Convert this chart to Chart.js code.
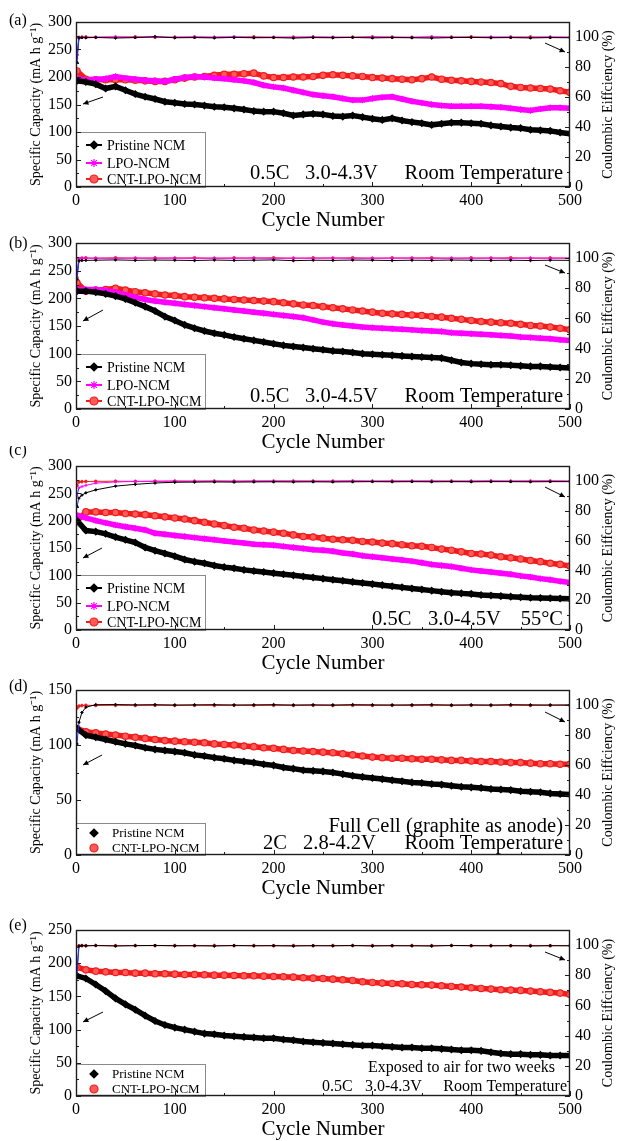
<!DOCTYPE html>
<html>
<head>
<meta charset="utf-8">
<script src="https://cdn.jsdelivr.net/npm/chart.js@4.4.1/dist/chart.umd.min.js"></script>
<style>
  html, body { margin: 0; padding: 0; background: #fff; overflow: hidden; }
  #page { position: relative; width: 617px; height: 1141px; }
  #page canvas { position: absolute; left: 0; }
</style>
</head>
<body>
<div id="page"></div>
<script>
const SERIF = "'Liberation Serif', 'Times New Roman', serif";

// capacity is sampled every 10 cycles, coulombic efficiency more sparsely
const CYCLES = [1, 10, 20, 30, 40, 50, 60, 70, 80, 90,
  100, 110, 120, 130, 140, 150, 160, 170, 180, 190,
  200, 210, 220, 230, 240, 250, 260, 270, 280, 290,
  300, 310, 320, 330, 340, 350, 360, 370, 380, 390,
  400, 410, 420, 430, 440, 450, 460, 470, 480, 490, 500];
const CE_CYCLES = [1, 3, 6, 10, 20, 40, 60, 80, 100,
  120, 140, 160, 180, 200, 220, 240, 260, 280, 300,
  320, 340, 360, 380, 400, 420, 440, 460, 480, 500];

// (a) 0.5C, 3.0-4.3V, room temperature
const A_PRISTINE = [193, 191, 187, 179, 183, 176, 169, 164, 160, 155,
  153, 151, 150, 148, 146, 145, 143, 141, 138, 137,
  137, 134, 130, 132, 133, 132, 129, 128, 130, 127,
  124, 122, 125, 121, 118, 116, 113, 115, 117, 117,
  116, 115, 112, 110, 108, 107, 104, 103, 102, 99, 97];
const A_LPO = [198, 194, 196, 197, 201, 198, 196, 194, 193, 192,
  196, 199, 201, 200, 198, 197, 195, 193, 190, 185,
  182, 180, 176, 172, 168, 166, 164, 161, 158, 158,
  161, 163, 164, 160, 156, 153, 150, 148, 147, 147,
  147, 147, 146, 145, 143, 141, 139, 142, 144, 144, 143];
const A_CNT = [211, 196, 195, 195, 195, 195, 194, 193, 192, 192,
  195, 198, 200, 201, 203, 205, 205, 206, 207, 202,
  199, 199, 200, 200, 201, 203, 204, 203, 202, 201,
  199, 198, 197, 196, 195, 197, 200, 196, 194, 193,
  192, 191, 190, 188, 183, 181, 180, 179, 178, 175, 172];
const A_CE_PRISTINE = [83, 99.4, 99.6, 99.5, 99.7, 99.3, 99.6, 100.2, 99.5,
  99.6, 99.4, 99.7, 99.5, 99.6, 99.3, 99.6, 99.5, 99.7, 99.4,
  99.6, 99.5, 99.3, 99.6, 99.7, 99.5, 99.6, 99.4, 99.6, 99.5];
const A_CE_LPO = [86, 99.8, 99.9, 99.7, 99.9, 100.1, 99.8, 99.9, 99.8,
  100.0, 99.9, 100.2, 99.7, 99.9, 99.8, 100.0, 99.9, 99.8, 100.0,
  99.9, 99.8, 100.1, 99.9, 99.8, 100.0, 99.9, 99.8, 100.0, 99.9];
const A_CE_CNT = [88, 99.7, 99.9, 100.0, 99.8, 99.9, 100.1, 99.8, 99.9,
  100.0, 99.8, 99.9, 100.1, 99.8, 99.9, 100.0, 99.8, 99.9, 100.1,
  99.9, 99.8, 100.0, 99.9, 100.1, 99.8, 99.9, 100.0, 99.9, 99.8];

// (b) 0.5C, 3.0-4.5V, room temperature
const B_PRISTINE = [213, 213, 211, 208, 204, 199, 192, 185, 177, 167,
  160, 152, 146, 141, 137, 134, 130, 127, 124, 121,
  118, 115, 113, 111, 109, 107, 105, 104, 102, 100,
  99, 98, 97, 96, 95, 94, 93, 92, 88, 84,
  82, 81, 80, 80, 79, 78, 77, 77, 76, 75, 74];
const B_LPO = [216, 216, 216, 214, 211, 206, 202, 198, 195, 193,
  191, 189, 187, 185, 183, 181, 179, 177, 175, 173,
  171, 169, 167, 165, 161, 157, 154, 152, 150, 148,
  147, 146, 145, 144, 143, 142, 141, 140, 138, 137,
  136, 135, 134, 133, 132, 130, 129, 128, 127, 125, 124];
const B_CNT = [228, 213, 215, 216, 218, 215, 212, 210, 208, 206,
  205, 203, 202, 201, 200, 199, 198, 197, 196, 195,
  194, 192, 190, 188, 187, 185, 183, 181, 179, 177,
  175, 173, 172, 171, 170, 169, 167, 166, 164, 162,
  160, 158, 157, 156, 155, 153, 151, 150, 148, 146, 143];
const B_CE_PRISTINE = [86, 98.1, 98.4, 98.5, 98.6, 98.8, 98.5, 98.7, 98.6,
  98.4, 98.7, 98.5, 98.6, 98.8, 98.3, 98.6, 98.5, 98.7, 98.6,
  98.4, 98.6, 98.5, 98.7, 98.6, 98.5, 98.6, 98.4, 98.6, 98.5];
const B_CE_LPO = [90, 99.8, 100.1, 99.9, 100.0, 99.8, 100.1, 99.9, 100.0,
  99.8, 100.0, 99.9, 100.1, 99.8, 100.0, 99.9, 100.1, 99.8, 100.0,
  99.9, 100.1, 99.8, 100.0, 99.9, 100.0, 99.8, 100.1, 99.9, 100.0];
const B_CE_CNT = [87, 99.6, 99.9, 100.1, 99.9, 100.2, 99.9, 100.1, 100.0,
  100.2, 99.9, 100.1, 100.0, 100.2, 99.9, 100.1, 100.0, 100.2, 99.9,
  100.1, 100.0, 100.2, 99.9, 100.1, 100.0, 100.2, 99.9, 100.1, 100.0];

// (c) 0.5C, 3.0-4.5V, 55 °C
const C_PRISTINE = [200, 182, 180, 176, 170, 165, 160, 151, 145, 140,
  135, 129, 125, 122, 118, 115, 113, 110, 108, 106,
  104, 102, 100, 98, 96, 94, 92, 90, 88, 86,
  84, 82, 80, 78, 76, 74, 72, 70, 68, 67,
  66, 64, 63, 62, 61, 60, 59, 58.5, 58, 57.5, 57];
const C_LPO = [210, 205, 200, 196, 192, 189, 186, 183, 177, 175,
  173, 171, 169, 167, 165, 163, 161, 159, 157, 156,
  155, 153, 151, 149, 147, 146, 144, 141, 139, 136,
  134, 132, 130, 128, 126, 123, 120, 118, 116, 113,
  110, 108, 106, 104, 102, 99, 97, 94, 92, 89, 87];
const C_CNT = [199, 216, 216, 215, 215, 213, 212, 211, 209, 207,
  205, 203, 200, 197, 194, 191, 188, 186, 183, 181,
  179, 177, 174, 171, 170, 168, 166, 165, 164, 162,
  161, 159, 158, 156, 154, 153, 151, 148, 146, 143,
  140, 139, 137, 134, 132, 130, 127, 125, 122, 120, 117];
const C_CE_PRISTINE = [83, 88.5, 90.5, 92, 94, 96.5, 97.7, 98.6, 99.1,
  99.2, 99.3, 99.2, 99.3, 99.4, 99.3, 99.4, 99.3, 99.4, 99.5,
  99.4, 99.5, 99.4, 99.5, 99.4, 99.5, 99.5, 99.4, 99.5, 99.5];
const C_CE_LPO = [90, 95.4, 96.2, 97, 98.5, 99.3, 99.6, 99.7, 99.8,
  99.8, 99.9, 99.8, 99.9, 100.0, 99.9, 99.8, 99.9, 100.0, 99.9,
  99.9, 100.0, 99.9, 99.8, 99.9, 100.0, 99.9, 99.9, 100.0, 99.9];
const C_CE_CNT = [97, 99.3, 99.5, 99.6, 99.7, 99.8, 99.7, 99.8, 99.9,
  99.8, 99.9, 99.8, 99.9, 99.8, 99.9, 99.9, 99.8, 99.9, 99.8,
  99.9, 99.8, 99.9, 99.9, 99.8, 99.9, 99.8, 99.9, 99.9, 99.8];

// (d) full cell, 2C, 2.8-4.2V
const D_PRISTINE = [115, 109, 107, 105, 103, 101, 99.5, 97.5, 96, 95,
  94, 93, 91, 90, 88.5, 87.5, 86, 85, 84, 82.5,
  81.5, 79.5, 78.5, 77, 76.5, 76, 75, 73.5, 72, 71,
  70, 69, 68, 67, 66, 65.5, 64.5, 64, 63, 62,
  61.5, 61, 60, 59.5, 59, 58, 57.5, 57, 56, 55.5, 55];
const D_CNT = [115, 112, 111, 110, 109, 108, 107, 106, 105, 104,
  103.5, 103, 102.5, 102, 101, 100.5, 100, 99, 98.5, 97.5,
  97, 96, 95, 94.5, 94, 93.5, 93, 92, 91, 90,
  89, 88.5, 88, 88, 87.5, 87, 87, 86.5, 86, 86,
  85.5, 85, 85, 84.5, 84, 84, 83.5, 83, 83, 82.5, 82.5];
const D_CE_PRISTINE = [74, 88.5, 95, 98.5, 100.2, 100.3, 100.1, 100.2, 100.0,
  100.1, 100.2, 100.0, 100.1, 100.2, 100.0, 100.1, 100.0, 100.2, 100.1,
  100.0, 100.1, 100.2, 100.0, 100.1, 100.0, 100.2, 100.1, 100.0, 100.1];
const D_CE_CNT = [98, 99.3, 99.6, 99.8, 99.7, 99.8, 99.7, 99.8, 99.7,
  99.8, 99.7, 99.8, 99.7, 99.8, 99.7, 99.8, 99.7, 99.8, 99.7,
  99.8, 99.7, 99.8, 99.7, 99.8, 99.7, 99.8, 99.7, 99.8, 99.7];

// (e) electrodes exposed to air for two weeks
const E_PRISTINE = [181, 177, 168, 158, 147, 138, 130, 121, 113, 107,
  103, 100, 97, 94, 93, 91, 90, 89, 88, 87,
  87, 85, 84, 82, 81, 80, 79, 78, 77, 76,
  76, 75, 74, 73, 73, 72, 72, 71, 70, 69,
  69, 68, 66, 64, 63, 63, 62, 62, 61, 61, 61];
const E_CNT = [194, 190, 188, 187, 186, 186, 185, 185, 184, 184,
  183.5, 183, 183, 182.5, 182, 182, 181.5, 181, 181, 180.5,
  180, 179.5, 179, 178, 177.5, 177, 176, 175, 174, 172,
  171, 170, 169.5, 169, 168, 167.5, 167, 166, 165, 164,
  163, 162, 161, 160, 159.5, 159, 158, 157, 156, 155, 153];
const E_CE_PRISTINE = [80, 99.3, 99.6, 99.5, 99.7, 99.4, 99.6, 99.8, 99.5,
  99.6, 99.4, 99.7, 99.5, 99.6, 99.4, 99.6, 99.5, 99.7, 99.4,
  99.6, 99.5, 99.4, 99.7, 99.6, 99.5, 99.6, 99.4, 99.6, 99.5];
const E_CE_CNT = [85, 99.5, 99.7, 99.6, 99.7, 99.6, 99.7, 99.6, 99.7,
  99.6, 99.7, 99.6, 99.7, 99.6, 99.7, 99.6, 99.7, 99.6, 99.7,
  99.6, 99.7, 99.6, 99.7, 99.6, 99.7, 99.6, 99.7, 99.6, 99.7];

const X_TICKS = [0, 100, 200, 300, 400, 500];
const CE_TICKS = [0, 20, 40, 60, 80, 100];

const STYLE = {
  'Pristine NCM': { color: '#000000', fill: '#000000', point: 'rectRot' },
  'LPO-NCM': { color: '#ff00ff', fill: '#ff00ff', point: 'star' },
  'CNT-LPO-NCM': { color: '#f01c1c', fill: '#ff5a5a', point: 'circle' },
};
const THREE = ['Pristine NCM', 'LPO-NCM', 'CNT-LPO-NCM'];
const TWO = ['Pristine NCM', 'CNT-LPO-NCM'];

const BIG_LEGEND = { top: -55, rows: [-42, -24, -8], line: true, textX: 107, size: 14 };
const SMALL_LEGEND = { top: -32, rows: [-22, -7], line: false, textX: 112, size: 13 };

const PANELS = [
  { tag: '(a)', tagDy: -1, top: 22, height: 165, capMax: 300, names: THREE,
    cap: [A_PRISTINE, A_LPO, A_CNT], ce: [A_CE_PRISTINE, A_CE_LPO, A_CE_CNT],
    legend: BIG_LEGEND,
    notes: [{ dy: -13, size: 20.5, parts: [['0.5C', 250, 'left'], ['3.0-4.3V', 305, 'left'], ['Room Temperature', 563, 'right']] }],
    arrows: [[103, 75, 83, 82], [545, 21, 565, 30]] },
  { tag: '(b)', tagDy: 1, top: 243, height: 166, capMax: 300, names: THREE,
    cap: [B_PRISTINE, B_LPO, B_CNT], ce: [B_CE_PRISTINE, B_CE_LPO, B_CE_CNT],
    legend: BIG_LEGEND,
    notes: [{ dy: -12, size: 20.5, parts: [['0.5C', 250, 'left'], ['3.0-4.5V', 305, 'left'], ['Room Temperature', 563, 'right']] }],
    arrows: [[103, 67, 83, 78], [545, 22, 565, 30]] },
  { tag: '(c)', tagDy: -15, top: 466, height: 164, capMax: 300, names: THREE,
    cap: [C_PRISTINE, C_LPO, C_CNT], ce: [C_CE_PRISTINE, C_CE_LPO, C_CE_CNT],
    legend: BIG_LEGEND,
    notes: [{ dy: -10, size: 20.5, parts: [['0.5C', 372, 'left'], ['3.0-4.5V', 428, 'left'], ['55°C', 563, 'right']] }],
    arrows: [[102, 82, 83, 92], [545, 21, 565, 31]] },
  { tag: '(d)', tagDy: -3, top: 690, height: 165, capMax: 150, names: TWO,
    cap: [D_PRISTINE, D_CNT], ce: [D_CE_PRISTINE, D_CE_CNT],
    legend: SMALL_LEGEND,
    notes: [{ dy: -28, size: 20.5, parts: [['Full Cell (graphite as anode)', 563, 'right']] },
            { dy: -11, size: 20.5, parts: [['2C', 263, 'left'], ['2.8-4.2V', 303, 'left'], ['Room Temperature', 563, 'right']] }],
    arrows: [[102, 65, 83, 75], [545, 22, 565, 32]] },
  { tag: '(e)', tagDy: -4, top: 930, height: 166, capMax: 250, names: TWO,
    cap: [E_PRISTINE, E_CNT], ce: [E_CE_PRISTINE, E_CE_CNT],
    legend: SMALL_LEGEND,
    notes: [{ dy: -28, size: 16, parts: [['Exposed to air for two weeks', 555, 'right']] },
            { dy: -9, size: 16, parts: [['0.5C', 322, 'left'], ['3.0-4.3V', 365, 'left'], ['Room Temperature', 567, 'right']] }],
    arrows: [[103, 82, 83, 92], [545, 22, 565, 30]] },
];

const PAD_TOP = 20;
const X_AXIS_H = 50;

function toPoints(xs, ys) {
  return xs.map((x, i) => ({ x, y: ys[i] }));
}

function arrow(ctx, x1, y1, x2, y2) {
  ctx.beginPath();
  ctx.moveTo(x1, y1);
  ctx.lineTo(x2, y2);
  ctx.stroke();
  const ang = Math.atan2(y2 - y1, x2 - x1);
  const h = 6;
  ctx.beginPath();
  ctx.moveTo(x2, y2);
  ctx.lineTo(x2 - h * Math.cos(ang - 0.45), y2 - h * Math.sin(ang - 0.45));
  ctx.lineTo(x2 - h * Math.cos(ang + 0.45), y2 - h * Math.sin(ang + 0.45));
  ctx.closePath();
  ctx.fill();
}

// inward major/minor tick marks along one side of the frame
function innerTicks(ctx, scale, minor, side, a) {
  const major = scale.ticks.map((t) => t.value);
  for (let v = scale.min; v <= scale.max + 1e-6; v += minor) {
    const len = major.some((m) => Math.abs(m - v) < 1e-6) ? 5 : 3;
    const p = Math.round(scale.getPixelForValue(v)) + 0.5;
    ctx.beginPath();
    if (side === 'bottom') { ctx.moveTo(p, a.bottom); ctx.lineTo(p, a.bottom - len); }
    if (side === 'left') { ctx.moveTo(a.left, p); ctx.lineTo(a.left + len, p); }
    if (side === 'right') { ctx.moveTo(a.right, p); ctx.lineTo(a.right - len, p); }
    ctx.stroke();
  }
}

const panelDecor = {
  id: 'panelDecor',
  afterDraw(chart, args, opts) {
    const { ctx, chartArea: a, scales } = chart;
    const lg = opts.legend;
    ctx.save();

    // legend box in the lower-left corner
    ctx.fillStyle = '#fff';
    ctx.fillRect(a.left, a.bottom + lg.top, 205 - a.left, -lg.top);
    ctx.strokeStyle = '#8a8a8a';
    ctx.lineWidth = 1;
    ctx.strokeRect(a.left + 0.5, a.bottom + lg.top + 0.5, 205 - a.left, -lg.top);
    opts.names.forEach((name, i) => {
      const st = STYLE[name];
      const y = a.bottom + lg.rows[i];
      if (lg.line) {
        ctx.strokeStyle = st.color;
        ctx.lineWidth = 2;
        ctx.beginPath();
        ctx.moveTo(86, y);
        ctx.lineTo(102, y);
        ctx.stroke();
      }
      ctx.fillStyle = st.fill;
      ctx.strokeStyle = st.color;
      ctx.lineWidth = 1.2;
      Chart.helpers.drawPoint(ctx, { pointStyle: st.point, radius: 4, rotation: 0, borderWidth: 1.2 }, 94, y);
      ctx.fillStyle = '#000';
      ctx.font = lg.size + 'px ' + SERIF;
      ctx.textAlign = 'left';
      ctx.textBaseline = 'middle';
      ctx.fillText(name, lg.textX, y + 1);
    });

    // frame and inward ticks
    ctx.strokeStyle = '#1e1e1e';
    ctx.lineWidth = 1.4;
    ctx.strokeRect(a.left + 0.5, a.top + 0.5, a.width - 1, a.height - 1);
    ctx.lineWidth = 1;
    innerTicks(ctx, scales.x, 50, 'bottom', a);
    innerTicks(ctx, scales.y, 25, 'left', a);
    innerTicks(ctx, scales.y1, 10, 'right', a);

    // test conditions
    ctx.fillStyle = '#000';
    ctx.textBaseline = 'middle';
    opts.notes.forEach((line) => {
      ctx.font = line.size + 'px ' + SERIF;
      line.parts.forEach(([text, x, align]) => {
        ctx.textAlign = align;
        ctx.fillText(text, x, a.bottom + line.dy);
      });
    });

    // arrows pointing at the matching axis
    ctx.strokeStyle = '#000';
    ctx.fillStyle = '#000';
    ctx.lineWidth = 1;
    opts.arrows.forEach(([x1, y1, x2, y2]) => arrow(ctx, x1, a.top + y1, x2, a.top + y2));

    // right axis title, reads bottom to top
    ctx.save();
    ctx.translate(608, (a.top + a.bottom) / 2);
    ctx.rotate(-Math.PI / 2);
    ctx.font = '14px ' + SERIF;
    ctx.textAlign = 'center';
    ctx.textBaseline = 'middle';
    ctx.fillText('Coulombic Eiffciency (%)', 0, 0);
    ctx.restore();

    // panel letter
    ctx.font = '16px ' + SERIF;
    ctx.textAlign = 'left';
    ctx.textBaseline = 'middle';
    ctx.fillText(opts.tag, 9, a.top + opts.tagDy);
    ctx.restore();
  }
};

const tickFont = { family: SERIF, size: 16 };
const page = document.getElementById('page');

PANELS.forEach((panel) => {
  const canvas = document.createElement('canvas');
  canvas.width = 617;
  canvas.height = PAD_TOP + panel.height + X_AXIS_H;
  canvas.style.top = (panel.top - PAD_TOP) + 'px';
  page.appendChild(canvas);

  const datasets = [];
  panel.names.forEach((name, i) => {
    const st = STYLE[name];
    datasets.push({
      label: name,
      data: toPoints(CYCLES, panel.cap[i]),
      yAxisID: 'y',
      borderColor: st.color,
      backgroundColor: st.fill,
      borderWidth: 5.5,
      pointStyle: st.point,
      pointRadius: 3.2,
      pointBorderWidth: 1.2,
      pointBackgroundColor: st.fill,
      pointBorderColor: st.color,
      tension: 0,
      order: 1,
    });
  });
  panel.names.forEach((name, i) => {
    const st = STYLE[name];
    datasets.push({
      label: name + ' CE',
      data: toPoints(CE_CYCLES, panel.ce[i]),
      yAxisID: 'y1',
      borderColor: st.color,
      backgroundColor: st.color,
      borderWidth: 1,
      pointStyle: st.point,
      pointRadius: 1.4,
      pointBorderWidth: 0.8,
      pointBackgroundColor: st.color,
      pointBorderColor: st.color,
      segment: { borderColor: (c) => (c.p0DataIndex === 0 ? '#2d2dff' : undefined) },
      order: 0,
    });
  });

  new Chart(canvas, {
    type: 'line',
    data: { datasets },
    options: {
      responsive: false,
      animation: false,
      devicePixelRatio: 1,
      layout: { padding: { top: PAD_TOP, left: 0, right: 0, bottom: 0 } },
      plugins: {
        legend: { display: false },
        tooltip: { enabled: false },
        panelDecor: { names: panel.names, legend: panel.legend, notes: panel.notes, arrows: panel.arrows, tag: panel.tag, tagDy: panel.tagDy },
      },
      scales: {
        x: {
          type: 'linear', min: 0, max: 500,
          afterBuildTicks: (s) => { s.ticks = X_TICKS.map((value) => ({ value })); },
          afterFit: (s) => { s.height = X_AXIS_H; },
          grid: { display: false, drawTicks: false },
          border: { display: false },
          ticks: { color: '#000', font: tickFont, padding: 4, maxRotation: 0, autoSkip: false },
          title: { display: true, text: 'Cycle Number', color: '#000', font: { family: SERIF, size: 21 }, padding: { top: 0, bottom: 4 } },
        },
        y: {
          position: 'left', min: 0, max: panel.capMax,
          afterFit: (s) => { s.width = 76; },
          grid: { display: false, drawTicks: false },
          border: { display: false },
          ticks: { stepSize: 50, color: '#000', font: tickFont, padding: 4 },
          title: { display: true, text: 'Specific Capacity (mA h g⁻¹)', color: '#000', font: { family: SERIF, size: 14 }, padding: { top: 28, bottom: 0 } },
        },
        y1: {
          position: 'right', min: 0, max: 110,
          afterBuildTicks: (s) => { s.ticks = CE_TICKS.map((value) => ({ value })); },
          afterFit: (s) => { s.width = 47; },
          grid: { display: false, drawTicks: false },
          border: { display: false },
          ticks: { color: '#000', font: tickFont, padding: 5 },
        },
      },
    },
    plugins: [panelDecor],
  });
});
</script>
</body>
</html>
